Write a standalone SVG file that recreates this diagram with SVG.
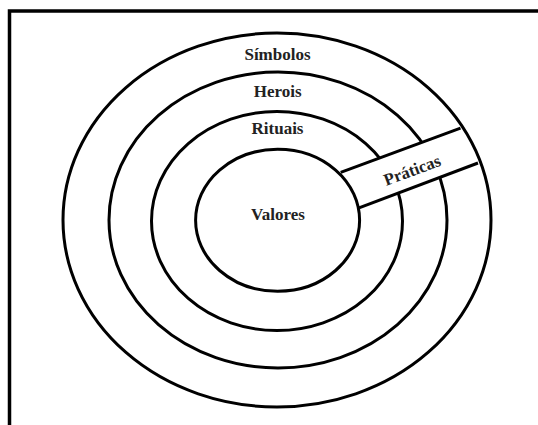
<svg xmlns="http://www.w3.org/2000/svg" width="538" height="425" viewBox="0 0 538 425">
<style>
.ring{fill:none;stroke:#000;stroke-width:3}
.lbl{font-family:"Liberation Serif","Times New Roman",serif;font-weight:bold;font-size:17px;fill:#222;text-anchor:middle}
.band{fill:#fff;stroke:none}
.edge{stroke:#000;stroke-width:3;fill:none}
</style>
<rect width="538" height="425" fill="#fff"/>
<path id="frame" d="M9.5,425 V11 H538" fill="none" stroke="#000" stroke-width="3.5"/>
<g id="herois">
<ellipse class="ring" cx="278" cy="220" rx="169" ry="148"/>
</g>
<g id="rituais">
<ellipse class="ring" cx="277" cy="221" rx="125.5" ry="109.5"/>
</g>
<g id="praticas">
<polygon class="band" points="340.7,172.3 460,128.3 477.3,163.3 357.7,208.3"/>
<g id="connectors">
<line class="edge" x1="340.7" y1="172.3" x2="460.5" y2="128.1"/>
<line class="edge" x1="357.7" y1="208.3" x2="478" y2="163"/>
</g>
<text class="lbl" transform="translate(412,170) rotate(-20.4)" y="6">Práticas</text>
</g>
<g id="simbolos">
<ellipse class="ring" cx="277" cy="220" rx="214" ry="187"/>
<text class="lbl" x="277.5" y="60">Símbolos</text>
</g>
<g id="valores">
<ellipse class="ring" cx="277.6" cy="220.3" rx="82" ry="71"/>
<text class="lbl" x="278" y="220">Valores</text>
</g>
<g id="herois-label"><text class="lbl" x="277.7" y="97">Herois</text></g>
<g id="rituais-label"><text class="lbl" x="277.5" y="134">Rituais</text></g>
</svg>
